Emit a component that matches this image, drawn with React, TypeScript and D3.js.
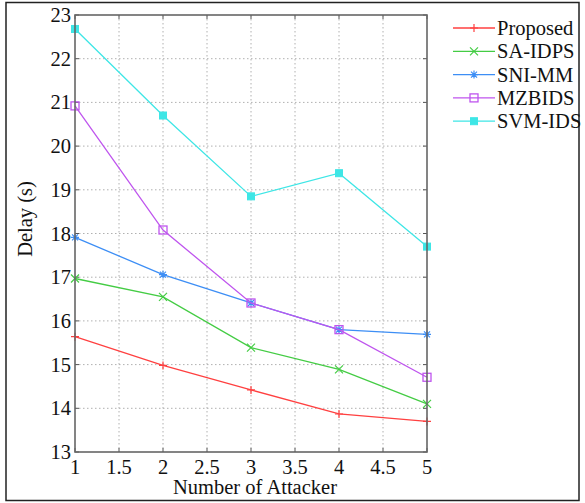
import React, { useEffect, useRef } from "react";
import * as d3 from "d3";

const attackers = [1, 2, 3, 4, 5];
const proposed = [15.64, 14.98, 14.42, 13.87, 13.7];
const saIdps = [16.97, 16.55, 15.39, 14.89, 14.1];
const sniMm = [17.91, 17.06, 16.41, 15.8, 15.69];
const mzbids = [20.92, 18.08, 16.41, 15.8, 14.71];
const svmIds = [22.68, 20.7, 18.85, 19.38, 17.7];
const xTicks = [1, 1.5, 2, 2.5, 3, 3.5, 4, 4.5, 5];
const yTicks = [13, 14, 15, 16, 17, 18, 19, 20, 21, 22, 23];

const series = [
  { name: "Proposed", values: proposed, color: "#ff4040", marker: "plus" },
  { name: "SA-IDPS", values: saIdps, color: "#44cc44", marker: "cross" },
  { name: "SNI-MM", values: sniMm, color: "#3d8ef5", marker: "star" },
  { name: "MZBIDS", values: mzbids, color: "#bf55ee", marker: "square" },
  { name: "SVM-IDS", values: svmIds, color: "#3ee6e6", marker: "filled" },
];

const W = 585;
const H = 503;
const margin = { top: 15, right: 158, bottom: 51, left: 75 };
const font = "'Liberation Serif', 'Times New Roman', serif";
const fs = 20.5;

function drawMarker(g, type, x, y, color) {
  const s = 4;
  if (type === "plus") {
    g.append("path").attr("d", `M${x - s},${y}H${x + s}M${x},${y - s}V${y + s}`)
      .attr("stroke", color).attr("stroke-width", 1.2);
  } else if (type === "cross") {
    g.append("path").attr("d", `M${x - s},${y - s}L${x + s},${y + s}M${x - s},${y + s}L${x + s},${y - s}`)
      .attr("stroke", color).attr("stroke-width", 1.2);
  } else if (type === "star") {
    g.append("path")
      .attr("d", `M${x - s},${y}H${x + s}M${x},${y - s}V${y + s}M${x - 3},${y - 3}L${x + 3},${y + 3}M${x - 3},${y + 3}L${x + 3},${y - 3}`)
      .attr("stroke", color).attr("stroke-width", 1.2);
  } else if (type === "square") {
    g.append("rect").attr("x", x - 4).attr("y", y - 4).attr("width", 8).attr("height", 8)
      .attr("fill", "none").attr("stroke", color).attr("stroke-width", 1.3);
  } else {
    g.append("rect").attr("x", x - 3.5).attr("y", y - 3.5).attr("width", 7).attr("height", 7)
      .attr("fill", color).attr("stroke", color);
  }
}

const App = () => {
  const svgRef = useRef(null);

  useEffect(() => {
    const svg = d3.select(svgRef.current);
    svg.selectAll("*").remove();

    const x = d3.scaleLinear().domain([1, 5]).range([margin.left, W - margin.right]);
    const y = d3.scaleLinear().domain([13, 23]).range([H - margin.bottom, margin.top]);

    svg.append("rect").attr("width", W).attr("height", H).attr("fill", "#fff");
    svg.append("rect").attr("x", 6).attr("y", 2.5).attr("width", 573).attr("height", 498)
      .attr("fill", "none").attr("stroke", "#222").attr("stroke-width", 1.5);

    // grid
    const grid = svg.append("g").attr("stroke", "#b0b0b0").attr("stroke-width", 1)
      .attr("stroke-dasharray", "1.5,2.5");
    xTicks.slice(1, -1).forEach((t) => {
      grid.append("line").attr("x1", x(t)).attr("x2", x(t))
        .attr("y1", margin.top).attr("y2", H - margin.bottom);
    });
    yTicks.slice(1, -1).forEach((t) => {
      grid.append("line").attr("x1", margin.left).attr("x2", W - margin.right)
        .attr("y1", y(t)).attr("y2", y(t));
    });

    // inner ticks
    const ticks = svg.append("g").attr("stroke", "#555").attr("stroke-width", 1);
    xTicks.forEach((t) => {
      ticks.append("line").attr("x1", x(t)).attr("x2", x(t))
        .attr("y1", H - margin.bottom).attr("y2", H - margin.bottom - 4);
      ticks.append("line").attr("x1", x(t)).attr("x2", x(t))
        .attr("y1", margin.top).attr("y2", margin.top + 4);
    });
    yTicks.forEach((t) => {
      ticks.append("line").attr("x1", margin.left).attr("x2", margin.left + 4)
        .attr("y1", y(t)).attr("y2", y(t));
      ticks.append("line").attr("x1", W - margin.right).attr("x2", W - margin.right - 4)
        .attr("y1", y(t)).attr("y2", y(t));
    });

    // lines
    const line = d3.line().x((d, i) => x(attackers[i])).y((d) => y(d));
    series.forEach((s) => {
      svg.append("path").datum(s.values).attr("d", line)
        .attr("fill", "none").attr("stroke", s.color).attr("stroke-width", 1.3);
      const mg = svg.append("g");
      s.values.forEach((v, i) => drawMarker(mg, s.marker, x(attackers[i]), y(v), s.color));
    });

    // box
    svg.append("rect").attr("x", margin.left).attr("y", margin.top)
      .attr("width", W - margin.right - margin.left).attr("height", H - margin.bottom - margin.top)
      .attr("fill", "none").attr("stroke", "#666").attr("stroke-width", 1.6);

    // tick labels
    xTicks.forEach((t) => {
      svg.append("text").attr("x", x(t)).attr("y", 474)
        .attr("text-anchor", "middle").attr("font-family", font).attr("font-size", fs)
        .attr("fill", "#111").text(String(t));
    });
    yTicks.forEach((t) => {
      svg.append("text").attr("x", margin.left - 4).attr("y", y(t) + 7)
        .attr("text-anchor", "end").attr("font-family", font).attr("font-size", fs)
        .attr("fill", "#111").text(String(t));
    });

    svg.append("text").attr("x", 255).attr("y", 494)
      .attr("text-anchor", "middle").attr("font-family", font).attr("font-size", fs)
      .attr("fill", "#111").text("Number of Attacker");
    svg.append("text")
      .attr("transform", `translate(32,219) rotate(-90)`)
      .attr("text-anchor", "middle").attr("font-family", font).attr("font-size", fs)
      .attr("fill", "#111").text("Delay (s)");

    // legend
    const lg = svg.append("g");
    series.forEach((s, i) => {
      const ly = 28 + i * 23.3;
      lg.append("line").attr("x1", 453).attr("x2", 495).attr("y1", ly).attr("y2", ly)
        .attr("stroke", s.color).attr("stroke-width", 1.3);
      drawMarker(lg, s.marker, 474, ly, s.color);
      lg.append("text").attr("x", 497).attr("y", ly + 7).attr("font-family", font)
        .attr("font-size", fs).attr("fill", "#111").text(s.name);
    });
  }, []);

  return (
    <svg ref={svgRef} width={W} height={H}
      style={{ position: "absolute", left: 0, top: 0, display: "block" }} />
  );
};

export default App;
